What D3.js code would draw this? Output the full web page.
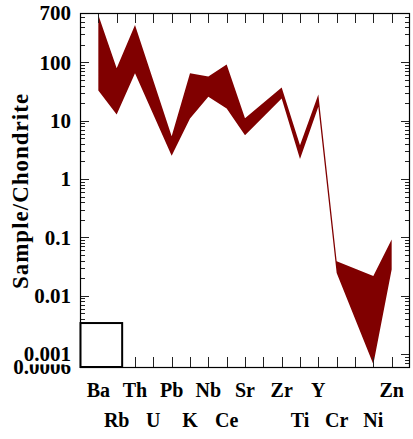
<!DOCTYPE html>
<html>
<head>
<meta charset="utf-8">
<script src="https://cdn.jsdelivr.net/npm/d3@7"></script>
<style>
  html, body { margin: 0; padding: 0; background: #fff; }
  svg { display: block; }
</style>
</head>
<body>
<svg id="chart" width="413" height="439"></svg>
<script>
// Element order along the x axis (blank slots are unlabeled positions)
const elements = ["Ba","Rb","Th","U","Pb","K","Nb","Ce","Sr","","Zr","Ti","Y","Cr","","Ni","Zn"];
// Upper and lower envelope of normalised concentrations (null = not analysed)
const upperValues = [650, 79, 435, null, 5.4, 65, 57, 92, 11, null, 37, 3.8, 28, 0.039, null, 0.0218, 0.092];
const lowerValues = [33, 12.8, 65, null, 2.5, 10.9, 25.6, 16.2, 5.65, null, 24, 2.2, 17.3, 0.0246, null, 0.00067, 0.028];
// Labelled y ticks (drawn bottom-up so upper labels sit on top)
const yTickValues = [0.0006, 0.001, 0.01, 0.1, 1, 10, 100, 700];
const yTickLabels = ["0.0006", "0.001", "0.01", "0.1", "1", "10", "100", "700"];
const yDomain = [0.0006, 700];

const FONT = "'Liberation Serif', 'Times New Roman', 'DejaVu Serif', serif";

const svg = d3.select("#chart");
const margin = { left: 80, right: 3, top: 13, bottom: 72 };
const W = 413, H = 439;
const x0 = margin.left, x1 = W - margin.right, y0 = margin.top, y1 = H - margin.bottom;

const x = d3.scalePoint().domain(d3.range(elements.length)).range([x0, x1]).padding(1);
const y = d3.scaleLog().domain(yDomain).range([y1, y0]);

// Envelope band
const rows = elements.map((e, i) => ({ i, hi: upperValues[i], lo: lowerValues[i] }))
  .filter(d => d.hi != null && d.lo != null);
const area = d3.area()
  .x(d => x(d.i))
  .y0(d => y(d.lo))
  .y1(d => y(d.hi));
svg.append("path").datum(rows).attr("d", area).attr("fill", "#800000").attr("stroke", "none");

// Minor/major log ticks on left and right, pointing inward
const logTicks = [];
for (let e = -4; e <= 2; e++) {
  for (let m = 1; m <= 9; m++) {
    const v = m * Math.pow(10, e);
    if (v >= yDomain[0] * 0.9999 && v <= yDomain[1] * 1.0001) logTicks.push({ v, major: m === 1 });
  }
}
const tickG = svg.append("g").attr("stroke", "#222").attr("stroke-width", 1).attr("shape-rendering", "crispEdges");
logTicks.forEach(t => {
  const yy = Math.round(y(t.v)) + 0.5;
  const len = t.major ? 9 : 5;
  tickG.append("line").attr("x1", x0).attr("x2", x0 + len).attr("y1", yy).attr("y2", yy);
  tickG.append("line").attr("x1", x1).attr("x2", x1 - len).attr("y1", yy).attr("y2", yy);
});

// Category ticks on top and bottom, pointing inward
const topAxis = d3.axisTop(x).tickSize(-10).tickFormat("");
const botAxis = d3.axisBottom(x).tickSize(-10).tickFormat("");
svg.append("g").attr("transform", `translate(0,${y0})`).call(topAxis)
  .call(g => g.select(".domain").remove())
  .selectAll("line").attr("stroke", "#222").attr("shape-rendering", "crispEdges");
svg.append("g").attr("transform", `translate(0,${y1})`).call(botAxis)
  .call(g => g.select(".domain").remove())
  .selectAll("line").attr("stroke", "#222").attr("shape-rendering", "crispEdges");

// Frame
svg.append("rect").attr("x", x0 + 0.5).attr("y", y0 + 0.5)
  .attr("width", x1 - x0 - 1).attr("height", y1 - y0)
  .attr("fill", "none").attr("stroke", "#000").attr("stroke-width", 1.2);

// Empty key box in the lower-left corner
svg.append("rect")
  .attr("x", x0 + 0.5).attr("y", y(0.0034))
  .attr("width", x(1) - x0 + 5).attr("height", y1 - y(0.0034))
  .attr("fill", "#fff").attr("stroke", "#000").attr("stroke-width", 2);

// Y tick labels; each label has an opaque backing so it masks the one below
yTickValues.forEach((v, i) => {
  const g = svg.append("g");
  const t = g.append("text")
    .attr("x", x0 - 9).attr("y", y(v))
    .attr("dy", "0.35em")
    .attr("text-anchor", "end")
    .attr("font-family", FONT).attr("font-weight", "bold")
    .attr("font-size", 21)
    .text(yTickLabels[i]);
  if (i > 0) {
    const b = t.node().getBBox();
    g.insert("rect", "text")
      .attr("x", b.x).attr("y", b.y + 3)
      .attr("width", b.width).attr("height", b.height - 5)
      .attr("fill", "#fff");
  }
});

// Element labels, alternating between two rows
elements.forEach((e, i) => {
  if (!e) return;
  svg.append("text")
    .attr("x", x(i)).attr("y", i % 2 === 0 ? 397 : 427)
    .attr("text-anchor", "middle")
    .attr("font-family", FONT).attr("font-weight", "bold")
    .attr("font-size", 20)
    .text(e);
});

// Y axis title
svg.append("text")
  .attr("transform", `translate(28,${(y0 + y1) / 2 + 1}) rotate(-90)`)
  .attr("text-anchor", "middle")
  .attr("font-family", FONT).attr("font-weight", "bold")
  .attr("font-size", 23)
  .attr("letter-spacing", 1)
  .text("Sample/Chondrite");
</script>
</body>
</html>
